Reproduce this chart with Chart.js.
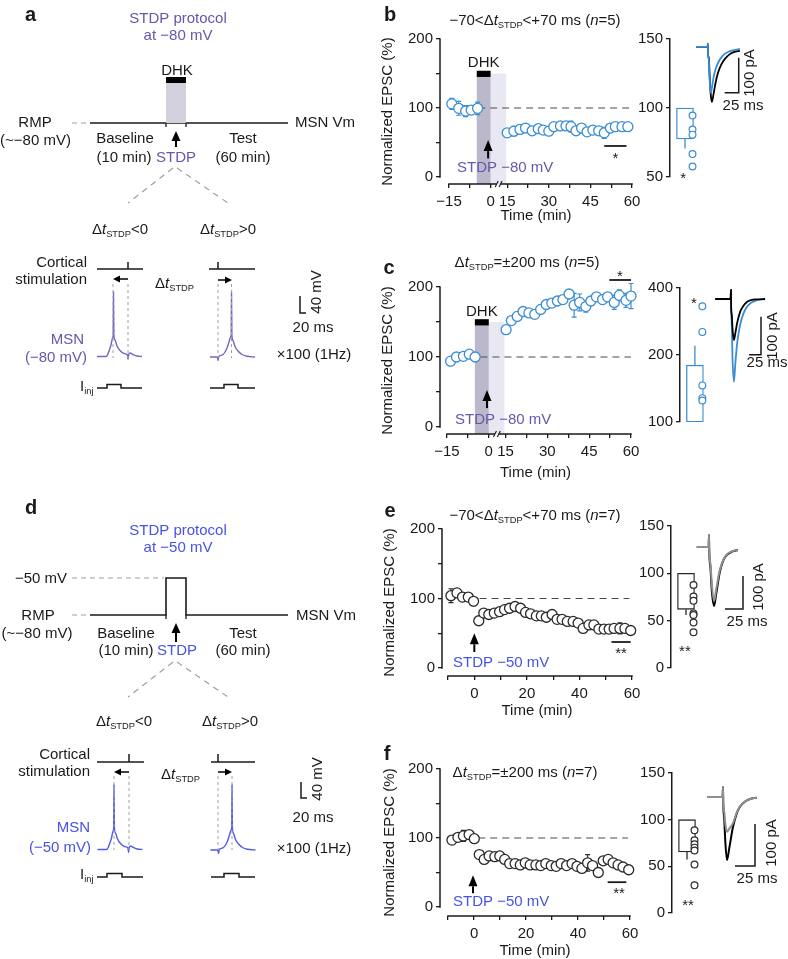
<!DOCTYPE html>
<html lang="en">
<head>
<meta charset="utf-8">
<title>STDP figure</title>
<script src="https://cdn.jsdelivr.net/npm/chart.js@4.4.1/dist/chart.umd.min.js"></script>
<style>
html,body{margin:0;padding:0;background:#fff;}
body{width:788px;height:959px;position:relative;overflow:hidden;}
canvas{position:absolute;}
</style>
</head>
<body>
<script>
/* ======================= DATA ======================= */
// Panel b : -70<Δt<+70 ms, STDP at -80 mV + DHK (n=5)
const bTime = [-14,-11.5,-9,-7,-4.7,15,17.4,19.6,21.6,24,26.2,28,30,31.8,34.2,36.2,38,39.8,41.8,43.8,45.9,48,50,52.2,54,56.4,58.5];
const bMean = [106,99.5,95.6,97,99.5,64,66.5,69,71,67,70,68,66.5,73,74,74,73,67,71,65.5,68,67,64,71,73,73,73];
const bSem  = [8,10,8,6,9,6,7,5,6,5,6,5,5,5,6,6,8,5,5,5,5,5,8,6,5,5,5];
const bInsetMean = 77.6, bInsetSem = 7;
const bInsetCells = [94.6,84.4,80.7,66.6,57.6];

// Panel c : Δt=±200 ms, STDP at -80 mV + DHK (n=5)
const cTime = [-13.7,-11.6,-9.1,-7,-4.9,15.2,17.1,19.2,21.3,23.4,25.5,27.6,29.6,31.6,33.6,35.6,37.8,39.6,41.6,43.8,45.6,47.6,49.8,51.6,54,55.8,58.2,60];
const cMean = [94,100,101,104,100,139,152,158,165,163,161,168,175,177,180,182,190,174,178,172,180,186,182,186,178,188,181,187];
const cSem  = [5,4,4,5,4,6,5,5,6,5,6,6,5,5,5,5,5,17,12,8,6,6,6,6,10,8,10,18];
const cInsetMean = 180, cInsetSem = 40;
const cInsetCells = [331,254,146,128,125];

// Panel e : -70<Δt<+70 ms, STDP at -50 mV (n=7)
const eTime = [-8.9,-6.6,-4.5,-2.3,-0.3,1.7,3.6,5.5,7.6,9.6,11.5,13.4,15.5,17.6,19.5,21.4,23.6,25.5,27.4,29.6,31.5,33.4,35.4,37.6,39.5,41.4,43.6,45.5,47.4,49.4,51.3,53.2,55.4,57.3,59.5];
const eMean = [104,108,102,102,96,68,79,77,79,81,84,86,88.5,86,80,78,75,75,73,77,70,70,67,67,64.6,57,62,62,56,56,56,57,57,57,54];
const eSem  = [10,5,6,5,4,4,3,3,3,3,3,3,4,3,3,3,3,3,3,3,3,3,3,3,3,3,4,4,3,3,3,3,8,5,3];
const eInsetMean = 62, eInsetSem = 6;
const eInsetCells = [87.7,75.4,71,57.7,56,48,37.7];

// Panel f : Δt=±200 ms, STDP at -50 mV (n=7)
const fTime = [-8.5,-6.2,-4.1,-1.9,0.1,2,3.9,5.8,8,9.9,11.8,13.7,15.8,17.8,19.7,21.6,23.8,25.7,27.6,29.7,31.6,33.5,35.6,37.7,39.6,41.5,43.7,45.6,47.8,49.7,51.6,53.5,55.4,57.3,59.5];
const fMean = [97,101,103,105,99,76,69,74,73,74,69,63,63,61,64,61,61,60,63,60,59,63,60,63,59,56,64,60,50,67,69,64,61,58,54];
const fSem  = [4,4,8,5,3,4,3,3,3,3,3,3,3,3,3,3,3,3,3,3,3,3,3,3,3,6,12,4,4,3,3,3,3,3,3];
const fInsetMean = 65.4, fInsetSem = 8;
const fInsetCells = [88.6,77.9,73.6,70,67,52,29.6];

// tick values / labels
const bcTickMin = [-15,-7.5,0,15,22.5,30,37.5,45,52.5,60];
const bcTickLab = ['−15','','0','15','','30','','45','','60'];
const efTickMin = [-10,0,10,20,30,40,50,60];
const efTickLab = ['','0','','20','','40','','60'];
const mainYTicks = [0,50,100,150,200];
const mainYLab = ['0','','100','','200'];

// example EPSC traces (ms, pA)
const trBt = [-21,-0.5,0,0.3,1.5,3,5,7,10,14,18,24,30,38,46,57];
const trBbefore = [0,0,9,-23,-30,-80,-135,-157,-135,-100,-74,-50,-35,-22,-15,-11];
const trBafter  = [0,0,9,-23,-35,-90,-131,-118,-88,-62,-46,-30,-20,-13,-9,-6];
const trCt = [-33,-1,0,0.3,1.5,3,6,9,13,19,26,33,42,54,71];
const trCbefore = [0,0,24,-24,-40,-75,-108,-90,-62,-34,-18,-8,-3,-1,0];
const trCafter  = [0,0,24,-24,-60,-150,-218,-170,-115,-68,-38,-21,-10,-3,0];
const trEt = [-17,-0.5,0,0.3,2,4,7,10,15,20,25,32,40];
const trEbefore = [0,0,36,-10,-62,-135,-179,-142,-76,-40,-24,-14,-9];
const trEafter  = [0,0,36,-10,-52,-115,-164,-128,-70,-38,-22,-13,-9];
const trFt = [-20,-0.5,0,0.3,1.5,3,5,8,12.5,17,21,28,35,42];
const trFbefore = [0,0,24,-15,-50,-110,-150,-120,-71,-40,-24,-10,-4,-2];
const trFafter  = [0,0,24,-15,-35,-65,-83,-75,-62,-38,-23,-10,-4,-2];

/* ======================= STYLE ======================= */
const FONT = "'Liberation Sans', Arial, Helvetica, sans-serif";
Chart.defaults.font.family = FONT;
Chart.defaults.font.size = 15;
Chart.defaults.color = '#1a1a1a';
const INK='#1a1a1a', GREY_DASH='#a0a0a0';
const PURPLE='#6657aa', PURPLE_TRACE='#7466c2', BLUE='#4752e6', BLUE_TRACE='#5259ec';
const CYAN='#3a8dd2', BLACKPT='#2a2a2a', GRAYTRACE='#8f8f8f';
const SHADE_DARK='#bcb8cb', SHADE_LIGHT='#e8e8f3', SHADE_SCHEM='#d3d1de';
const brk = t => t <= 0 ? t : (t < 15 ? t*0.4 : t - 9);
const ident = t => t;

/* ======================= HELPERS ======================= */
function mkCanvas(r){
  const c=document.createElement('canvas');
  c.width=r.w; c.height=r.h;
  c.style.left=r.l+'px'; c.style.top=r.t+'px';
  c.style.width=r.w+'px'; c.style.height=r.h+'px';
  document.body.appendChild(c);
  return c;
}
function parseRich(s){
  const out=[]; const re=/\{(i|s):([^}]*)\}/g; let last=0,m;
  while((m=re.exec(s))){ if(m.index>last) out.push({t:s.slice(last,m.index)}); out.push({t:m[2],i:m[1]==='i',sub:m[1]==='s'}); last=re.lastIndex; }
  if(last<s.length) out.push({t:s.slice(last)});
  return out;
}
function drawText(ctx,o,ox,oy){
  const size=o.size||15;
  const segs=parseRich(o.t);
  ctx.save();
  ctx.translate(o.x-(ox||0), o.y-(oy||0));
  if(o.rot) ctx.rotate(-Math.PI/2);
  let total=0;
  const ps=segs.map(s=>{const sz=s.sub?size*0.62:size; const f=(s.i?'italic ':'')+(o.bold?'bold ':'')+sz+'px '+FONT; ctx.font=f; const w=ctx.measureText(s.t).width; total+=w; return {s,f,w};});
  let x = o.align==='left'?0:(o.align==='right'?-total:-total/2);
  ctx.textBaseline='alphabetic'; ctx.textAlign='left'; ctx.fillStyle=o.c||INK;
  const base=size*0.36;
  for(const p of ps){ ctx.font=p.f; ctx.fillText(p.s.t,x,base+(p.s.sub?size*0.2:0)); x+=p.w; }
  ctx.restore();
}
function drawArrow(ctx,x1,y1,x2,y2,hl,hw,lw,color){
  const a=Math.atan2(y2-y1,x2-x1);
  const bx=x2-Math.cos(a)*hl, by=y2-Math.sin(a)*hl;
  ctx.save(); ctx.strokeStyle=color; ctx.fillStyle=color; ctx.lineWidth=lw;
  ctx.beginPath(); ctx.moveTo(x1,y1); ctx.lineTo(bx,by); ctx.stroke();
  ctx.beginPath(); ctx.moveTo(x2,y2);
  ctx.lineTo(bx+Math.sin(a)*hw, by-Math.cos(a)*hw);
  ctx.lineTo(bx-Math.sin(a)*hw, by+Math.cos(a)*hw);
  ctx.closePath(); ctx.fill(); ctx.restore();
}
const baseOpts = {responsive:false, animation:false, devicePixelRatio:1, events:[],
  plugins:{legend:{display:false}, tooltip:{enabled:false}}};

/* ======================= TIME-COURSE PANELS ======================= */
function timePanel(P){
  const cv=mkCanvas(P.cv);
  const M=P.map, ox=P.cv.l, oy=P.cv.t;
  const tickVals=P.xTicks.map(M);
  const xLab={}; tickVals.forEach((v,i)=>xLab[String(v)]=P.xTickLabels[i]);
  const yLab={}; mainYTicks.forEach((v,i)=>yLab[String(v)]=mainYLab[i]);
  const gridOpt={display:true, drawOnChartArea:false, drawTicks:true, tickLength:4, color:INK, lineWidth:1.3};
  const deco={id:'deco'+P.letter,
    beforeDatasetsDraw(ch){
      const c=ch.ctx, xs=ch.scales.x, ys=ch.scales.y, A=ch.chartArea;
      if(P.dhk){
        const d=P.dhk;
        const l0=xs.getPixelForValue(M(d.end)), l1=xs.getPixelForValue(M(d.washEnd));
        const st=ys.getPixelForValue(d.shadeTop);
        c.fillStyle=SHADE_LIGHT; c.fillRect(l0,st,l1-l0,A.bottom-st);
        const x0=xs.getPixelForValue(M(d.start)), x1=xs.getPixelForValue(M(d.end));
        const bl=ys.getPixelForValue(d.barLow), bh=ys.getPixelForValue(d.barHigh);
        c.fillStyle=SHADE_DARK; c.fillRect(x0,bl,x1-x0,A.bottom-bl);
        c.fillStyle='#000'; c.fillRect(x0,bh,x1-x0,bl-bh);
        drawText(c,{t:'DHK',x:(x0+x1)/2,y:bh-9},0,0);
      }
      c.save(); c.strokeStyle=P.color; c.lineWidth=1.2;
      P.time.forEach((t,i)=>{
        const x=xs.getPixelForValue(M(t));
        const y0=ys.getPixelForValue(P.mean[i]-P.sem[i]), y1=ys.getPixelForValue(P.mean[i]+P.sem[i]);
        c.beginPath(); c.moveTo(x,y0); c.lineTo(x,y1);
        c.moveTo(x-2.5,y0); c.lineTo(x+2.5,y0); c.moveTo(x-2.5,y1); c.lineTo(x+2.5,y1); c.stroke();
      });
      c.restore();
    },
    afterDraw(ch){
      const c=ch.ctx, xs=ch.scales.x, ys=ch.scales.y, A=ch.chartArea;
      c.save(); c.strokeStyle=INK; c.lineWidth=1.5; c.lineCap='butt';
      c.beginPath(); c.moveTo(A.left, ys.getPixelForValue(0)+0.75); c.lineTo(A.left, ys.getPixelForValue(200)-0.75); c.stroke();
      const xa0=xs.getPixelForValue(M(P.xAxis[0]))-0.75, xa1=xs.getPixelForValue(M(P.xAxis[1]))+0.75;
      if(P.axisBreak){
        const b0=xs.getPixelForValue(M(P.axisBreak[0])), b1=xs.getPixelForValue(M(P.axisBreak[1]));
        c.beginPath(); c.moveTo(xa0,A.bottom); c.lineTo(b0,A.bottom); c.moveTo(b1,A.bottom); c.lineTo(xa1,A.bottom); c.stroke();
        c.lineWidth=1.1;
        c.beginPath(); c.moveTo(b0-1.5,A.bottom+3); c.lineTo(b0+1.5,A.bottom-3); c.moveTo(b1-1.5,A.bottom+3); c.lineTo(b1+1.5,A.bottom-3); c.stroke();
      } else {
        c.beginPath(); c.moveTo(xa0,A.bottom); c.lineTo(xa1,A.bottom); c.stroke();
      }
      c.restore();
      const ax=xs.getPixelForValue(M(P.arrow[0]));
      drawArrow(c,ax,ys.getPixelForValue(P.arrow[1]),ax,ys.getPixelForValue(P.arrow[2]),11,4.5,2,'#000');
      drawText(c,{t:P.stdp.t,x:xs.getPixelForValue(M(P.stdp.at[0])),y:ys.getPixelForValue(P.stdp.at[1]),align:'left',c:P.stdp.c},0,0);
      drawText(c,{t:P.star.t,x:xs.getPixelForValue(M(P.star.at[0])),y:ys.getPixelForValue(P.star.at[1])+3},0,0);
      drawText(c,{t:P.title.t,x:P.title.x,y:P.title.y},ox,oy);
      drawText(c,{t:P.letter,x:P.lab.x,y:P.lab.y,bold:true,size:20},ox,oy);
    }
  };
  new Chart(cv,{
    type:'scatter',
    data:{datasets:[
      {type:'scatter', data:P.time.map((t,i)=>({x:M(t),y:P.mean[i]})), pointRadius:5, pointBorderWidth:1.3,
       pointBackgroundColor:'#fff', pointBorderColor:P.color, order:0, clip:false},
      {type:'line', data:[{x:M(P.dash[0]),y:100},{x:M(P.dash[1]),y:100}], borderColor:'#4a4a4a', borderWidth:1.2,
       borderDash:[7,5], pointRadius:0, order:3, clip:false},
      {type:'line', data:[{x:M(P.sig[0]),y:P.sig[2]},{x:M(P.sig[1]),y:P.sig[2]}], borderColor:INK, borderWidth:1.8,
       pointRadius:0, order:2, clip:false}
    ]},
    options:Object.assign({},baseOpts,{
      layout:{padding:{left:0,top:P.area.t-oy,right:ox+P.cv.w-P.area.r,bottom:0}},
      scales:{
        x:{type:'linear',min:P.xMin,max:P.xMax,
           afterFit:s=>{s.height=oy+P.cv.h-P.area.b;},
           afterBuildTicks:s=>{s.ticks=tickVals.map(v=>({value:v}));},
           ticks:{autoSkip:false,maxRotation:0,minRotation:0,padding:5,color:INK,font:{size:15},callback:v=>xLab[String(v)]??''},
           grid:gridOpt,border:{display:false},
           title:{display:true,text:'Time (min)',color:INK,font:{size:15},padding:{top:0,bottom:4}}},
        y:{type:'linear',min:P.yMin,max:200,
           afterFit:s=>{s.width=P.area.l-ox;},
           afterBuildTicks:s=>{s.ticks=mainYTicks.map(v=>({value:v}));},
           ticks:{padding:3,color:INK,font:{size:15},callback:v=>yLab[String(v)]??''},
           grid:gridOpt,border:{display:false},
           title:{display:true,text:'Normalized EPSC (%)',color:INK,font:{size:15},padding:{top:4,bottom:0}}}
      }
    }),
    plugins:[deco]
  });
}

/* ======================= INSET (bar + cells) ======================= */
function insetPanel(P){
  const cv=mkCanvas(P.cv);
  const ox=P.cv.l, oy=P.cv.t, right=P.axisX+30;
  const yLab={}; P.ticks.forEach((v,i)=>yLab[String(v)]=P.labels[i]);
  const errEnd = P.mean<100 ? P.mean-P.sem : P.mean+P.sem;
  new Chart(cv,{
    type:'bar',
    data:{datasets:[
      {type:'bar', data:[{x:0,y:[100,P.mean]}], barThickness:17, backgroundColor:'#fff', borderColor:P.color,
       borderWidth:1.3, borderSkipped:false, order:3},
      {type:'line', data:[{x:0,y:P.mean},{x:0,y:errEnd}], borderColor:P.color, borderWidth:1.3, pointRadius:0, order:2, clip:false},
      {type:'scatter', data:P.cells.map(v=>({x:0.5,y:v})), pointRadius:3.4, pointBorderWidth:1.2,
       pointBackgroundColor:'#fff', pointBorderColor:P.color, order:0, clip:false}
    ]},
    options:Object.assign({},baseOpts,{
      layout:{padding:{left:0,top:P.top-oy,right:ox+P.cv.w-right,bottom:oy+P.cv.h-P.bottom}},
      scales:{
        x:{type:'linear',display:false,min:-1,max:1,offset:false},
        y:{type:P.log?'logarithmic':'linear',min:P.min,max:P.max,
           afterFit:s=>{s.width=P.axisX-ox;},
           afterBuildTicks:s=>{s.ticks=P.ticks.map(v=>({value:v}));},
           ticks:{padding:3,color:INK,font:{size:15},callback:v=>yLab[String(v)]??''},
           grid:{display:true,drawOnChartArea:false,drawTicks:true,tickLength:4,color:INK,lineWidth:1.3},
           border:{display:true,color:INK,width:1.5}}
      }
    }),
    plugins:[{id:'ins'+P.cv.t, afterDraw(ch){
      const xs=ch.scales.x, ys=ch.scales.y;
      drawText(ch.ctx,{t:P.star[0],x:xs.getPixelForValue(P.star[1]),y:ys.getPixelForValue(P.star[2])+3},0,0);
    }}]
  });
}

/* ======================= EPSC TRACES ======================= */
// traces listed top-most first (explicit "order" keeps the first one drawn on top)
function tracePanel(P){
  const cv=mkCanvas(P.cv);
  const ox=P.cv.l, oy=P.cv.t;
  const ds=P.traces.map((T,k)=>({type:'line', data:P.t.map((t,i)=>({x:t,y:T.v[i]})), borderColor:T.c, borderWidth:T.w||1.8,
    pointRadius:0, cubicInterpolationMode:'monotone', clip:false, order:k}));
  const b=P.bar;
  ds.push({type:'line', data:[{x:b[0],y:b[1]},{x:b[0]+25,y:b[1]},{x:b[0]+25,y:b[1]+100}], borderColor:INK, borderWidth:1.5,
    pointRadius:0, tension:0, clip:false, borderJoinStyle:'miter', order:9});
  new Chart(cv,{
    type:'line', data:{datasets:ds},
    options:Object.assign({},baseOpts,{
      layout:{padding:0},
      scales:{x:{type:'linear',display:false,min:P.x[0],max:P.x[1]}, y:{type:'linear',display:false,min:P.y[0],max:P.y[1]}}
    }),
    plugins:[{id:'tr'+oy, afterDraw(ch){
      drawText(ch.ctx,{t:'25 ms',x:P.ms[0],y:P.ms[1]},ox,oy);
      drawText(ch.ctx,{t:'100 pA',x:P.pa[0],y:P.pa[1],rot:true},ox,oy);
    }}]
  });
}

/* ======================= SCHEMATICS ======================= */
function schematic(S){
  const cv=mkCanvas({l:0,t:S.top,w:375,h:S.h});
  const ds=S.lines.map(L=>({type:'line', data:L.pts.map(p=>({x:p[0],y:p[1]-S.top})), borderColor:L.c||INK,
    borderWidth:L.w||1.5, borderDash:L.dash||[], pointRadius:0, fill:false, tension:0,
    cubicInterpolationMode:L.smooth?'monotone':'default', borderCapStyle:'butt', borderJoinStyle:'miter', clip:false}));
  new Chart(cv,{
    type:'line', data:{datasets:ds},
    options:Object.assign({},baseOpts,{
      layout:{padding:0},
      scales:{x:{type:'linear',display:false,min:0,max:375}, y:{type:'linear',display:false,min:0,max:S.h,reverse:true}}
    }),
    plugins:[{id:'sch'+S.top, afterDraw(ch){
      const c=ch.ctx, xs=ch.scales.x, ys=ch.scales.y;
      const px=(x,y)=>[xs.getPixelForValue(x), ys.getPixelForValue(y-S.top)];
      S.arrows.forEach(a=>{const p1=px(a[0],a[1]), p2=px(a[2],a[3]); drawArrow(c,p1[0],p1[1],p2[0],p2[1],a[4],a[5],a[6],'#000');});
      S.texts.forEach(t=>{const p=px(t.x,t.y); drawText(c,Object.assign({},t,{x:p[0],y:p[1]}),0,0);});
    }}]
  });
}

/* ---- schematic a (STDP at -80 mV, DHK) ---- */
const aMsnLeft  = [[97,356.5],[106,356.5],[107.5,355],[109,351],[111,345],[112.6,338],[113.2,335],[113.5,292],[113.9,335],[115,340],[117,346],[120,350.5],[124,353.5],[127.5,355],[128,359.5],[128.6,355],[130,353],[133,354.5],[137,356],[142,356.5]];
const aMsnRight = [[210,357],[217.4,357],[218,360.5],[218.7,357],[220.5,355.5],[223,354.5],[225,352],[227,348],[229,342],[230.6,337],[231.2,335],[231.5,292],[231.9,335],[233,340.5],[235,346.5],[238,351],[242,354.5],[247,356.3],[255,357]];
const aIinjLeft  = [[97,388],[107,388],[107,384.5],[121,384.5],[121,388],[142,388]];
const aIinjRight = [[210,388],[224,388],[224,384.5],[238,384.5],[238,388],[255,388]];
schematic({top:0,h:420,
  lines:[
    {pts:[[176,83],[176,123]],w:20,c:SHADE_SCHEM},
    {pts:[[166,80],[186,80]],w:6,c:'#000'},
    {pts:[[72,123],[88,123]],c:GREY_DASH,w:1.2,dash:[5,4]},
    {pts:[[90,123],[288,123]],w:1.6},
    {pts:[[166,123],[166,127]],w:1.3},{pts:[[186,123],[186,127]],w:1.3},
    {pts:[[173,168],[128,203]],c:GREY_DASH,w:1.2,dash:[6,5]},
    {pts:[[177,168],[228,203]],c:GREY_DASH,w:1.2,dash:[6,5]},
    {pts:[[97,269],[143,269]]},{pts:[[128,262],[128,269]]},
    {pts:[[209,269],[255,269]]},{pts:[[218,262],[218,269]]},
    {pts:[[113,284],[113,358]],c:GREY_DASH,w:1,dash:[3,3]},{pts:[[128,284],[128,358]],c:GREY_DASH,w:1,dash:[3,3]},
    {pts:[[218,284],[218,358]],c:GREY_DASH,w:1,dash:[3,3]},{pts:[[231.5,284],[231.5,358]],c:GREY_DASH,w:1,dash:[3,3]},
    {pts:aMsnLeft,c:PURPLE_TRACE,w:1.4,smooth:true},
    {pts:aMsnRight,c:PURPLE_TRACE,w:1.4,smooth:true},
    {pts:aIinjLeft,w:1.5},{pts:aIinjRight,w:1.5},
    {pts:[[300,296],[300,313],[306,313]],w:1.5}
  ],
  arrows:[[176,147,176,131,10,4.5,2],[128,279,113,279,7,3.5,1.5],[218,280,232,280,7,3.5,1.5]],
  texts:[
    {t:'a',x:25,y:14,bold:true,size:20,align:'left'},
    {t:'STDP protocol',x:178,y:18,c:PURPLE},{t:'at −80 mV',x:178,y:35,c:PURPLE},
    {t:'DHK',x:177,y:70},
    {t:'RMP',x:35,y:122},{t:'(~−80 mV)',x:35.5,y:140},
    {t:'MSN Vm',x:295,y:122,align:'left'},
    {t:'Baseline',x:125,y:138},{t:'(10 min)',x:124,y:157},
    {t:'STDP',x:176,y:157,c:PURPLE},
    {t:'Test',x:243,y:138},{t:'(60 min)',x:243,y:157},
    {t:'Δ{i:t}{s:STDP}<0',x:120,y:229},{t:'Δ{i:t}{s:STDP}>0',x:228,y:229},
    {t:'Cortical',x:87,y:262,align:'right'},{t:'stimulation',x:87,y:279,align:'right'},
    {t:'Δ{i:t}{s:STDP}',x:155,y:283,align:'left'},
    {t:'MSN',x:84,y:339,align:'right',c:PURPLE},{t:'(−80 mV)',x:87,y:357,align:'right',c:PURPLE},
    {t:'40 mV',x:316,y:292,rot:true},
    {t:'20 ms',x:313,y:327},
    {t:'×100 (1Hz)',x:314,y:354},
    {t:'I{s:inj}',x:80,y:386,align:'left'}
  ]});

/* ---- schematic d (STDP at -50 mV) ---- */
const dMsnLeft  = [[97.5,849.5],[106.5,849.5],[108,848],[109.5,844],[111.5,838],[113.1,831],[113.7,828],[114,785],[114.4,828],[115.5,833],[117.5,839],[120.5,843.5],[124.5,846.5],[128,848],[128.5,852.5],[129.1,848],[130.5,846],[133.5,847.5],[137.5,849],[142.5,849.5]];
const dMsnRight = [[210.5,850],[217.9,850],[218.5,853.5],[219.2,850],[221,848.5],[223.5,847.5],[225.5,845],[227.5,841],[229.5,835],[231.1,830],[231.7,828],[232,785],[232.4,828],[233.5,833.5],[235.5,839.5],[238.5,844],[242.5,847.5],[247.5,849.3],[255.5,850]];
const dIinjLeft  = [[97,877],[107,877],[107,873.5],[122,873.5],[122,877],[143,877]];
const dIinjRight = [[211,877],[224,877],[224,873.5],[239,873.5],[239,877],[255,877]];
schematic({top:490,h:420,
  lines:[
    {pts:[[72,578],[164,578]],c:GREY_DASH,w:1.2,dash:[5,4]},
    {pts:[[72,615],[88,615]],c:GREY_DASH,w:1.2,dash:[5,4]},
    {pts:[[90,615],[166,615],[166,578],[186,578],[186,615],[288,615]],w:1.6},
    {pts:[[166,615],[166,619]],w:1.3},{pts:[[186,615],[186,619]],w:1.3},
    {pts:[[173,662],[128,697]],c:GREY_DASH,w:1.2,dash:[6,5]},
    {pts:[[177,662],[228,697]],c:GREY_DASH,w:1.2,dash:[6,5]},
    {pts:[[97,762],[144,762]]},{pts:[[129,754],[129,762]]},
    {pts:[[211,762],[255,762]]},{pts:[[218,754],[218,762]]},
    {pts:[[114,776],[114,850]],c:GREY_DASH,w:1,dash:[3,3]},{pts:[[129,776],[129,850]],c:GREY_DASH,w:1,dash:[3,3]},
    {pts:[[218,776],[218,850]],c:GREY_DASH,w:1,dash:[3,3]},{pts:[[232,776],[232,850]],c:GREY_DASH,w:1,dash:[3,3]},
    {pts:dMsnLeft,c:BLUE_TRACE,w:1.4,smooth:true},
    {pts:dMsnRight,c:BLUE_TRACE,w:1.4,smooth:true},
    {pts:dIinjLeft,w:1.5},{pts:dIinjRight,w:1.5},
    {pts:[[301,782],[301,798],[307,798]],w:1.5}
  ],
  arrows:[[176,642,176,623,10,4.5,2],[129,772,114,772,7,3.5,1.5],[218,772,232,772,7,3.5,1.5]],
  texts:[
    {t:'d',x:25,y:507,bold:true,size:20,align:'left'},
    {t:'STDP protocol',x:178,y:530,c:BLUE},{t:'at −50 mV',x:178,y:547,c:BLUE},
    {t:'−50 mV',x:67,y:578,align:'right'},
    {t:'RMP',x:38,y:615},{t:'(~−80 mV)',x:37,y:633},
    {t:'MSN Vm',x:296,y:615,align:'left'},
    {t:'Baseline',x:126,y:633},{t:'(10 min)',x:126,y:650},
    {t:'STDP',x:177,y:650,c:BLUE},
    {t:'Test',x:243,y:633},{t:'(60 min)',x:243,y:650},
    {t:'Δ{i:t}{s:STDP}<0',x:124,y:721},{t:'Δ{i:t}{s:STDP}>0',x:230,y:721},
    {t:'Cortical',x:90,y:754,align:'right'},{t:'stimulation',x:90,y:771,align:'right'},
    {t:'Δ{i:t}{s:STDP}',x:161,y:774,align:'left'},
    {t:'MSN',x:90,y:827,align:'right',c:BLUE},{t:'(−50 mV)',x:91,y:847,align:'right',c:BLUE},
    {t:'40 mV',x:317,y:779,rot:true},
    {t:'20 ms',x:313,y:817},
    {t:'×100 (1Hz)',x:314,y:848},
    {t:'I{s:inj}',x:80,y:874,align:'left'}
  ]});

/* ======================= BUILD DATA PANELS ======================= */
timePanel({letter:'b',cv:{l:375,t:0,w:275,h:229},area:{l:440,t:39,r:632,b:184},
  xMin:-18.25,xMax:51,yMin:-10.1,map:brk,xTicks:bcTickMin,xTickLabels:bcTickLab,
  time:bTime,mean:bMean,sem:bSem,color:CYAN,
  dash:[-4.5,60],sig:[50,58,45],star:{t:'*',at:[54,32]},xAxis:[-15,60],axisBreak:[5.5,9],
  dhk:{start:-5,end:0,washEnd:14,barLow:145,barHigh:154,shadeTop:150},
  arrow:[-0.9,27,53.5],stdp:{t:'STDP −80 mV',at:[-12.1,14.5],c:PURPLE},
  title:{t:'−70<Δ{i:t}{s:STDP}<+70 ms ({i:n}=5)',x:535,y:20},lab:{x:390,y:14}});

timePanel({letter:'c',cv:{l:375,t:245,w:275,h:241},area:{l:440,t:287,r:631,b:434},
  xMin:-17.5,xMax:51,yMin:-10,map:brk,xTicks:bcTickMin,xTickLabels:bcTickLab,
  time:cTime,mean:cMean,sem:cSem,color:CYAN,
  dash:[-3,60],sig:[52.2,60,210],star:{t:'*',at:[56,220]},xAxis:[-15,60],axisBreak:[5.5,9],
  dhk:{start:-5,end:0,washEnd:14,barLow:145,barHigh:154,shadeTop:150},
  arrow:[-0.65,27,53],stdp:{t:'STDP −80 mV',at:[-12.1,11.4],c:PURPLE},
  title:{t:'Δ{i:t}{s:STDP}=±200 ms ({i:n}=5)',x:527,y:262},lab:{x:389,y:267}});

timePanel({letter:'e',cv:{l:377,t:490,w:273,h:234},area:{l:442,t:529,r:632,b:676},
  xMin:-12.3,xMax:60,yMin:-11.5,map:ident,xTicks:efTickMin,xTickLabels:efTickLab,
  time:eTime,mean:eMean,sem:eSem,color:BLACKPT,
  dash:[2,59],sig:[52.2,59.5,37.4],star:{t:'**',at:[55.8,27]},xAxis:[-10,60],
  arrow:[0,23,50],stdp:{t:'STDP −50 mV',at:[-8.1,8.6],c:BLUE},
  title:{t:'−70<Δ{i:t}{s:STDP}<+70 ms ({i:n}=7)',x:535,y:515},lab:{x:390,y:510}});

timePanel({letter:'f',cv:{l:377,t:735,w:273,h:229},area:{l:440,t:769,r:630,b:916},
  xMin:-13.1,xMax:60,yMin:-13,map:ident,xTicks:efTickMin,xTickLabels:efTickLab,
  time:fTime,mean:fMean,sem:fSem,color:BLACKPT,
  dash:[1.6,59.2],sig:[51.4,58.6,36],star:{t:'**',at:[55.8,24.6]},xAxis:[-10,60],
  arrow:[-0.4,20,46],stdp:{t:'STDP −50 mV',at:[-8.1,10],c:BLUE},
  title:{t:'Δ{i:t}{s:STDP}=±200 ms ({i:n}=7)',x:525,y:772},lab:{x:387,y:753}});

insetPanel({cv:{l:630,t:0,w:80,h:226},axisX:670,top:39,bottom:177,min:50,max:150,ticks:[50,100,150],labels:['50','100','150'],
  mean:bInsetMean,sem:bInsetSem,cells:bInsetCells,color:CYAN,star:['*',-0.13,52]});
insetPanel({cv:{l:630,t:245,w:85,h:238},axisX:680,top:288,bottom:422,log:true,min:100,max:400,ticks:[100,200,400],labels:['100','200','400'],
  mean:cInsetMean,sem:cInsetSem,cells:cInsetCells,color:CYAN,star:['*',-0.07,356]});
insetPanel({cv:{l:630,t:490,w:80,h:231},axisX:671,top:526,bottom:668,min:0,max:150,ticks:[0,50,100,150],labels:['0','50','100','150'],
  mean:eInsetMean,sem:eInsetSem,cells:eInsetCells,color:BLACKPT,star:['**',-0.07,22]});
insetPanel({cv:{l:630,t:735,w:80,h:226},axisX:672,top:773,bottom:913,min:0,max:150,ticks:[0,50,100,150],labels:['0','50','100','150'],
  mean:fInsetMean,sem:fInsetSem,cells:fInsetCells,color:BLACKPT,star:['**',0.07,12]});

tracePanel({cv:{l:690,t:35,w:98,h:80},x:[-32,143],y:[-194.6,34],t:trBt,
  traces:[{v:trBafter,c:CYAN},{v:trBbefore,c:'#000'}],bar:[30,-131],ms:[743,105],pa:[749,73]});
tracePanel({cv:{l:712,t:280,w:76,h:110},x:[-39.6,118.75],y:[-239.5,50],t:trCt,
  traces:[{v:trCbefore,c:'#000'},{v:trCafter,c:CYAN}],bar:[37.5,-147],ms:[767,362],pa:[772,336]});
tracePanel({cv:{l:690,t:520,w:98,h:110},x:[-26.4,109.7],y:[-251.5,81.8],t:trEt,
  traces:[{v:trEafter,c:GRAYTRACE,w:2},{v:trEbefore,c:'#000',w:2}],bar:[22.2,-188],ms:[747,621],pa:[758,587]});
tracePanel({cv:{l:700,t:770,w:88,h:120},x:[-28.75,81.25],y:[-221.4,64.3],t:trFt,
  traces:[{v:trFafter,c:GRAYTRACE,w:2},{v:trFbefore,c:'#000',w:2}],bar:[15,-164],ms:[757,878],pa:[771,843]});
</script>
</body>
</html>
